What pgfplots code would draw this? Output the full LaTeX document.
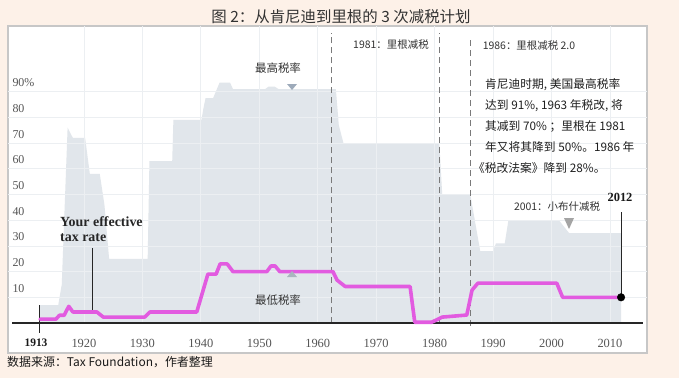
\documentclass[border=0pt]{standalone}
\usepackage{pgfplots}
\pgfplotsset{compat=1.18}
\usepackage{fontspec}
\setmainfont{Liberation Serif}
\newfontfamily\cjk{Noto Sans CJK SC}
\definecolor{bg}{HTML}{FDF1E8}
\definecolor{areac}{HTML}{E1E6EB}
\definecolor{gridc}{HTML}{ECEFF2}
\definecolor{mag}{HTML}{E25BE0}
\definecolor{tickc}{HTML}{555555}
\definecolor{dashc}{HTML}{7A7A7A}
\definecolor{txt}{HTML}{333333}
\definecolor{tri1}{HTML}{9DAABA}
\definecolor{tri2}{HTML}{A9B5BF}
\definecolor{tri3}{HTML}{A4A4A4}
\begin{document}
\begin{tikzpicture}[x=1bp,y=1bp]
\fill[bg] (0,0) rectangle (679,378);
\fill[white] (8,25) rectangle (647,352);
\draw[black!22, line width=1.6bp] (8,25) rectangle (647,352);
\begin{axis}[
  at={(8bp,25bp)}, anchor=south west, scale only axis,
  width=639bp, height=327bp,
  xmin=1907.0, xmax=2016.34, ymin=-11.67, ymax=115.56,
  axis line style={draw=none},
  major tick length=0pt,
  xtick={1920,1930,...,2010},
  xticklabels={1920,1930,1940,1950,1960,1970,1980,1990,2000,2010},
  ytick={10,20,...,90},
  yticklabels={10,20,30,40,50,60,70,80,90\%},
  xticklabel style={font=\fontsize{12.5}{14}\selectfont, text=tickc, anchor=center, yshift=10bp},
  yticklabel style={font=\fontsize{12}{14}\selectfont, text=tickc, anchor=west, xshift=1bp, yshift=9bp},
  /pgf/number format/assume math mode=true,
  clip=false,
]
% top tax rate (grey area)
\addplot[fill=areac, draw=none] coordinates {
(1912.4,0)(1912.4,7)(1915.6,7)(1916.2,15)(1917.2,76)(1918.1,72)(1920.2,72)
(1921.0,58)(1922.7,58)(1923.5,46)(1924.3,25)(1930.9,25)(1931.2,63)(1935.1,63)
(1935.3,79)(1940.1,79)(1940.4,83)(1940.8,87.5)(1942.1,87.5)(1943.2,93.5)
(1945.0,93.5)(1945.5,91)(1951.0,91)(1951.6,92)(1952.6,92)(1953.3,91)
(1963.1,91)(1963.6,77)(1964.4,70)(1980.8,70)(1981.3,50)(1986.1,50)
(1987.8,28)(1990.0,28)(1990.5,31)(1992.0,31)(1992.6,39.6)(2001.4,39.6)
(2003.0,35)(2011.9,35)(2011.9,0)
} \closedcycle;
% faint grid on top of the area
\pgfplotsinvokeforeach{10,20,...,90}{
  \draw[gridc, line width=0.8bp] (axis cs:1907.0,#1) -- (axis cs:2016.34,#1);
}
\pgfplotsinvokeforeach{1920,1930,...,2010}{
  \draw[gridc, line width=0.8bp] (axis cs:#1,0) -- (axis cs:#1,115.56);
}
% dashed markers
\draw[dashc, dash pattern=on 6bp off 4bp, line width=0.9bp] (axis cs:1962.4,0) -- (axis cs:1962.4,113);
\draw[dashc, dash pattern=on 6bp off 4bp, line width=0.9bp] (axis cs:1980.9,0) -- (axis cs:1980.9,113);
\draw[dashc, dash pattern=on 6bp off 4bp, line width=0.9bp] (axis cs:1986.05,-1) -- (axis cs:1986.05,110);
% x axis line
\draw[black!85, line width=1.2bp] (axis cs:1907.7,0) -- (axis cs:2015.65,0);
% leader lines
\draw[black!85, line width=1bp] (axis cs:1912.4,7) -- (axis cs:1912.4,-3.9);
\draw[black!85, line width=1bp] (axis cs:1921.4,29) -- (axis cs:1921.4,4.3);
\draw[black!85, line width=1bp] (axis cs:2011.9,10) -- (axis cs:2011.9,43);
% effective tax rate
\addplot[mag, line width=3.6bp, line join=round, line cap=round] coordinates {
(1912.5,1.5)(1915.2,1.5)(1915.8,3)(1916.6,3)(1917.4,6.5)(1918.1,4.3)(1922.2,4.3)
(1923.3,2.3)(1930.4,2.3)(1931.3,4.3)(1939.3,4.3)(1941.2,19)(1942.6,19)(1943.3,23)
(1944.5,23)(1945.5,20)(1951.3,20)(1952.0,22.2)(1952.7,22.2)(1953.5,20)(1962.6,20)
(1963.3,16.7)(1964.7,14.2)(1975.8,14.2)(1976.6,0.3)(1979.5,0.3)(1981.3,2.3)
(1985.5,3.1)(1986.4,12.8)(1987.4,15.5)(2000.9,15.5)(2001.9,10)(2011.9,10)
};
\addplot[only marks, mark=*, mark size=3.8bp, black] coordinates {(2011.9,10)};
\end{axis}
% texts
\node[text=txt, font=\cjk\fontsize{15.5}{17}\selectfont] at (341,361) {图 2：从肯尼迪到里根的 3 次减税计划};
\node[anchor=west, inner sep=0pt, text=black!90, font=\cjk\fontsize{12}{14}\selectfont] at (7,16) {数据来源：Tax Foundation，作者整理};
\node[text=txt, font=\cjk\fontsize{10.5}{12}\selectfont] at (391,333) {1981：里根减税};
\node[text=txt, font=\cjk\fontsize{10.5}{12}\selectfont] at (529,332) {1986：里根减税 2.0};
\node[text=txt, font=\cjk\fontsize{10.5}{12}\selectfont] at (557,171) {2001：小布什减税};
\node[text=txt, font=\cjk\fontsize{11.5}{13}\selectfont] at (278,310) {最高税率};
\node[text=txt, font=\cjk\fontsize{11.5}{13}\selectfont] at (278,78) {最低税率};
\fill[tri1] (287,294) -- (297,294) -- (292,288) -- cycle;
\fill[tri2] (287,101) -- (297,101) -- (292,107) -- cycle;
\fill[tri3] (564,160) -- (574,160) -- (569,149) -- cycle;
\begin{scope}[every node/.style={anchor=west, inner sep=0pt, text=black!88, font=\cjk\fontsize{11.8}{13}\selectfont}]
\node at (485,293) {肯尼迪时期, 美国最高税率};
\node at (485,272) {达到 91\%, 1963 年税改, 将};
\node at (485,251) {其减到 70\% ；里根在 1981};
\node at (485,231) {年又将其降到 50\%。1986 年};
\node at (473,210) {《税改法案》降到 28\%。};
\end{scope}
\node[anchor=west, inner sep=0pt, align=left, font=\bfseries\fontsize{14}{15}\selectfont, text=black!85] at (60,149) {Your effective\\tax rate};
\node[font=\bfseries\fontsize{12.5}{14}\selectfont, text=black!90] at (620,181) {2012};
\node[font=\bfseries\fontsize{11.5}{13}\selectfont, text=black!90] at (36,35) {1913};
\pgfresetboundingbox
\useasboundingbox (0,0) rectangle (679,378);
\end{tikzpicture}
\end{document}
